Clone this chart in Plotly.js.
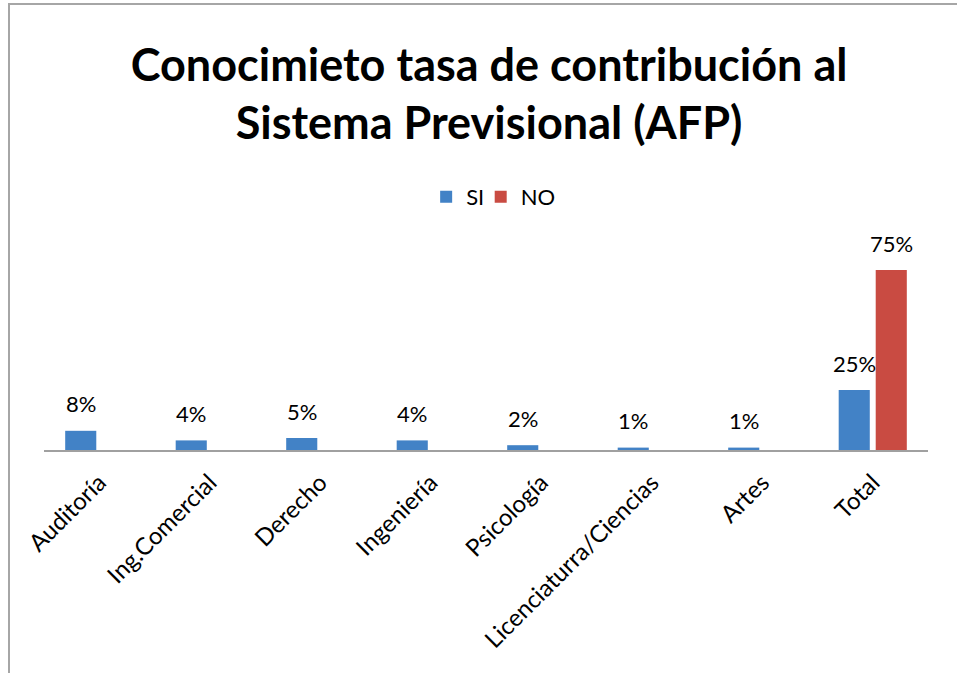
<!DOCTYPE html>
<html>
<head>
<meta charset="utf-8">
<script src="https://cdn.plot.ly/plotly-3.0.1.min.js"></script>
<style>
  html, body { margin: 0; padding: 0; background: #fff; }
  #wrap { position: relative; width: 957px; height: 673px; overflow: hidden; }
  #chart { position: absolute; left: 0; top: 0; width: 957px; height: 673px; }
  #frame { position: absolute; left: 8px; top: 3px; width: 960px; height: 680px;
           border-left: 2px solid #a6a6a6; border-top: 2px solid #a6a6a6; pointer-events: none; }
</style>
</head>
<body>
<div id="wrap">
  <div id="chart"></div>
  <div id="frame"></div>
</div>
<script>
const categories = ["Auditoría", "Ing.Comercial", "Derecho", "Ingeniería", "Psicología", "Licenciaturra/Ciencias", "Artes", "Total"];
const siValues = [0.08, 0.04, 0.05, 0.04, 0.02, 0.01, 0.01, 0.25];
const noValues = [null, null, null, null, null, null, null, 0.75];
const siLabels = ["8%", "4%", "5%", "4%", "2%", "1%", "1%", "25%"];
const noLabels = ["", "", "", "", "", "", "", "75%"];

const FONT = "Lato, 'Open Sans', sans-serif";

const traces = [
  { type: "bar", name: "SI", x: categories, y: siValues, legend: "legend",
    marker: { color: "#4282C6" }, hoverinfo: "skip" },
  { type: "bar", name: "NO", x: categories, y: noValues, legend: "legend2",
    marker: { color: "#C94B42" }, hoverinfo: "skip" }
];

const annotations = [];
categories.forEach((c, i) => {
  if (siValues[i] != null && siLabels[i]) {
    annotations.push({ x: c, y: siValues[i], xref: "x", yref: "y", text: siLabels[i],
      showarrow: false, xshift: -18.5, yshift: 27, yanchor: "middle",
      font: { family: FONT, size: 22, color: "#000" } });
  }
  if (noValues[i] != null && noLabels[i]) {
    annotations.push({ x: c, y: noValues[i], xref: "x", yref: "y", text: noLabels[i],
      showarrow: false, xshift: 18.5, yshift: 27, yanchor: "middle",
      font: { family: FONT, size: 22, color: "#000" } });
  }
});

const legendStyle = (x) => ({ orientation: "h", x: x, xanchor: "left", y: 1.205, yanchor: "middle",
  font: { family: FONT, size: 22, color: "#000" }, itemclick: false, itemdoubleclick: false,
  bgcolor: "rgba(0,0,0,0)" });

const layout = {
  width: 957, height: 673,
  paper_bgcolor: "rgba(0,0,0,0)", plot_bgcolor: "rgba(0,0,0,0)",
  margin: { l: 44, r: 29, t: 240, b: 223 },
  font: { family: FONT, size: 20, color: "#000" },
  title: {
    text: "<b>Conocimieto tasa de contribución al<br>Sistema Previsional (AFP)</b>",
    font: { family: FONT, size: 45, color: "#000" },
    x: 0.511, xref: "container", xanchor: "center",
    y: 0.88, yref: "container", yanchor: "top"
  },
  showlegend: true,
  legend: legendStyle(0.4323),
  legend2: legendStyle(0.4940),
  barmode: "group", bargap: 0.33, bargroupgap: 0.16,
  xaxis: { type: "category", showline: true, linecolor: "#a0a0a0", linewidth: 2,
    ticks: "", tickangle: -45, showgrid: false, zeroline: false, ticklabelstandoff: 7,
    tickfont: { family: FONT, size: 24, color: "#000" } },
  yaxis: { range: [0, 0.875], visible: false, showgrid: false, zeroline: false },
  annotations: annotations
};

Plotly.newPlot("chart", traces, layout, { displayModeBar: false, staticPlot: true });
</script>
</body>
</html>
